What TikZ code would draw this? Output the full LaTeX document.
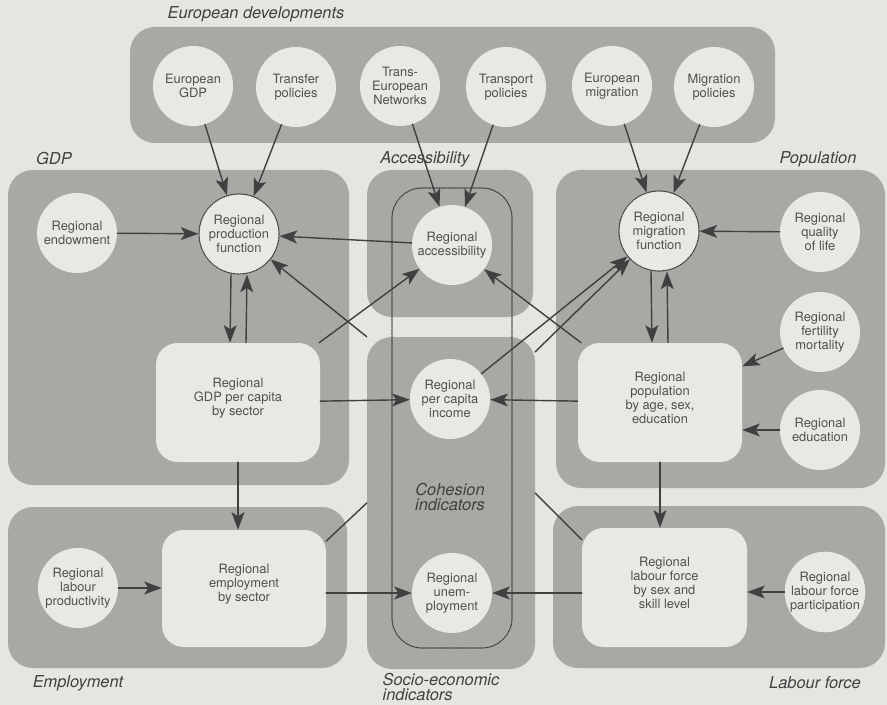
\documentclass[tikz,border=0pt]{standalone}
\usepackage{fontspec}
\setmainfont{TeX Gyre Heros}
\usetikzlibrary{arrows.meta,fit}
\definecolor{paper}{RGB}{229,229,225}
\definecolor{panelgray}{RGB}{168,168,165}
\definecolor{lightshape}{RGB}{232,232,228}
\definecolor{inkdark}{RGB}{64,64,64}
\definecolor{textgray}{RGB}{80,80,80}
\newcommand{\circfont}{\fontsize{11}{12}\selectfont}
\newcommand{\grpfont}{\fontsize{14}{13}\selectfont\itshape}
\begin{document}
\begin{tikzpicture}[x=0.03cm,y=-0.03cm,line cap=round,line join=round,
  >={Stealth[length=15pt,width=11pt,inset=3.5pt]},
  panel/.style={fill=panelgray,rounded corners=0.75cm,inner sep=0pt},
  cohframe/.style={draw=inkdark,densely dotted,line width=1pt,rounded corners=0.9cm,inner sep=0pt},
  circ/.style={circle,fill=lightshape,minimum size=2.4cm,inner sep=0pt,align=center,font=\circfont,text=textgray},
  model/.style={circ,draw=inkdark,densely dotted,line width=1pt},
  box/.style={rectangle,fill=lightshape,rounded corners=0.65cm,inner sep=0pt,align=center,font=\circfont,text=textgray},
  grp/.style={font=\grpfont,text=inkdark},
  link/.style={->,draw=inkdark,line width=1.2pt},
  plain/.style={draw=inkdark,line width=1.2pt}]
  \useasboundingbox (0,0) rectangle (887,705);
  \fill[paper] (0,0) rectangle (887,705);
  % panels
  \node[panel,fit={(130,27) (775,143)}] (eurpanel) {};
  \node[panel,fit={(8,170) (349,485)}] (gdppanel) {};
  \node[panel,fit={(367,170) (533,317)}] (accpanel) {};
  \node[panel,fit={(556,170) (885,488)}] (poppanel) {};
  \node[panel,fit={(8,507) (347,668)}] (emppanel) {};
  \node[panel,fit={(367,337) (535,669)}] (socio) {};
  \node[panel,fit={(553,506) (885,668)}] (labpanel) {};
  \node[cohframe,fit={(392,188) (512,648)}] (cohesion) {};
  % European developments
  \node[circ] (egdp) at (193,86) {European\\GDP};
  \node[circ] (transfer) at (296,87) {Transfer\\policies};
  \node[circ] (ten) at (400,86) {Trans-\\European\\Networks};
  \node[circ] (transport) at (506,87) {Transport\\policies};
  \node[circ] (eurmig) at (612,86) {European\\migration};
  \node[circ] (migpol) at (714,87) {Migration\\policies};
  % GDP
  \node[circ] (endow) at (77,233) {Regional\\endowment};
  \node[model] (prod) at (239,234) {Regional\\production\\function};
  \node[box,fit={(156,343) (320,462)}] (gdp) {Regional\\GDP per capita\\by sector};
  % accessibility and indicators
  \node[circ] (acc) at (452,245) {Regional\\accessibility};
  \node[circ] (income) at (450,399) {Regional\\per capita\\income};
  \node[circ] (unemp) at (452,593) {Regional\\unem-\\ployment};
  % population
  \node[model] (mig) at (659,231) {Regional\\migration\\function};
  \node[circ] (quality) at (820,232) {Regional\\quality\\of life};
  \node[circ] (fert) at (820,332) {Regional\\fertility\\mortality};
  \node[circ] (edu) at (820,430) {Regional\\education};
  \node[box,fit={(578,343) (742,462)}] (pop) {Regional\\population\\by age, sex,\\education};
  % employment and labour force
  \node[circ] (prodvty) at (78,588) {Regional\\labour\\productivity};
  \node[box,fit={(162,530) (326,647)}] (empl) {Regional\\employment\\by sector};
  \node[box,fit={(582,528) (747,647)}] (lab) {Regional\\labour force\\by sex and\\skill level};
  \node[circ] (partic) at (825,592) {Regional\\labour force\\participation};
  % group labels
  \node[grp] (eurlbl) at (256,14) {European developments};
  \node[grp] (gdplbl) at (54,159) {GDP};
  \node[grp] (acclbl) at (425,159) {Accessibility};
  \node[grp] (poplbl) at (818,159) {Population};
  \node[grp] (emplbl) at (78,683) {Employment};
  \node[grp,align=left] (sociolbl) at (441,687) {Socio-economic\\indicators};
  \node[grp] (lablbl) at (815,683) {Labour force};
  \node[grp,align=center] (cohlbl) at (450,497) {Cohesion\\indicators};
  % links
  \draw[link] (egdp) -- (prod);
  \draw[link] (transfer) -- (prod);
  \draw[link] (ten) -- (acc);
  \draw[link] (transport) -- (acc);
  \draw[link] (eurmig) -- (mig);
  \draw[link] (migpol) -- (mig);
  \draw[link] (endow) -- (prod);
  \draw[link] (acc) -- (prod);
  \draw[link] ([xshift=-0.24cm]prod.south) -- ([xshift=-0.24cm]gdp.north);
  \draw[link] ([xshift=0.24cm]gdp.north) -- ([xshift=0.24cm]prod.south);
  \draw[link] (gdp) -- (acc);
  \draw[link] (gdp) -- (income);
  \draw[link] (socio.north west) -- (prod);
  \draw[link] (income) -- (mig);
  \draw[link] ([yshift=-0.45cm]socio.north east) -- (mig);
  \draw[link] (pop) -- (acc);
  \draw[link] (pop) -- (income);
  \draw[link] ([xshift=-0.24cm]mig.south) -- ([xshift=-0.24cm]pop.north);
  \draw[link] ([xshift=0.24cm]pop.north) -- ([xshift=0.24cm]mig.south);
  \draw[link] (quality) -- (mig);
  \draw[link] (fert) -- (pop);
  \draw[link] (edu) -- (edu -| pop.east);
  \draw[link] (gdp.south) -- (gdp.south |- empl.north);
  \draw[link] (pop.south) -- (pop.south |- lab.north);
  \draw[link] (prodvty) -- (prodvty -| empl.west);
  \draw[link] (empl.east |- unemp) -- (unemp);
  \draw[link] (lab.west |- unemp) -- (unemp);
  \draw[link] (partic) -- (partic -| lab.east);
  \draw[plain] (empl.30) -- (socio.west);
  \draw[plain] (lab.150) -- ([yshift=0.3cm]socio.east);
\end{tikzpicture}
\end{document}
